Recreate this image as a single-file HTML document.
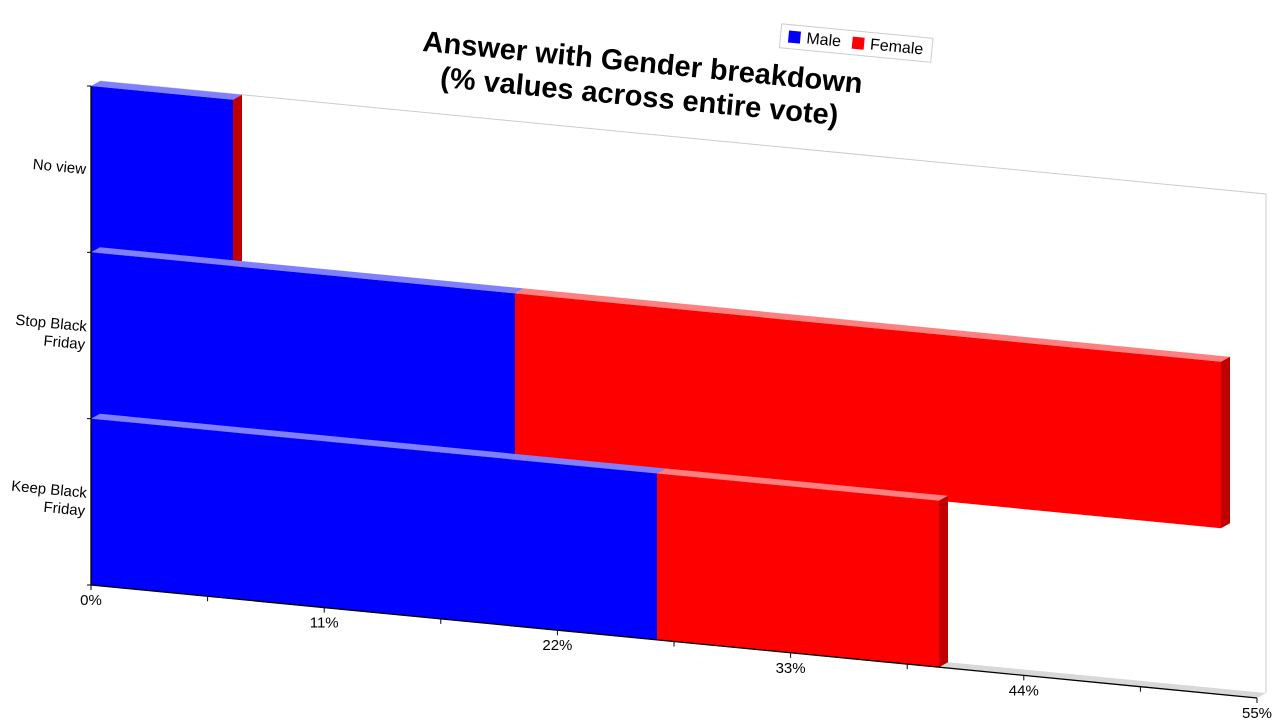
<!DOCTYPE html>
<html><head><meta charset="utf-8"><style>
html,body{margin:0;padding:0;background:#fff;width:1280px;height:720px;overflow:hidden;font-family:"Liberation Sans",sans-serif}
</style></head><body>
<svg id="chart" width="1280" height="720" xmlns="http://www.w3.org/2000/svg">
<g id="wall"></g>
<g id="bars"></g>
<g id="axes"></g>
<g transform="rotate(5.5 640 90)">
<text x="640" y="72" text-anchor="middle" font-size="29" font-weight="bold" fill="#000">Answer with Gender breakdown</text>
<text x="640" y="106" text-anchor="middle" font-size="29" font-weight="bold" fill="#000">(% values across entire vote)</text>
</g>
<g transform="rotate(5.5 856 45)">
<rect x="780" y="31" width="152" height="24" fill="#fff" stroke="#ccc"/>
<rect x="788" y="37" width="12" height="12" fill="#0000ff"/>
<text x="806" y="48" font-size="16">Male</text>
<rect x="852" y="37" width="12" height="12" fill="#ff0000"/>
<text x="870" y="48" font-size="16">Female</text>
</g>
</svg>
<script>
const categories = ["No view", "Stop Black\nFriday", "Keep Black\nFriday"];
const maleValues = [6.7, 20.0, 26.7];
const femaleValues = [0.0, 33.3, 13.3];
const tickValues = [0, 11, 22, 33, 44, 55];
const tickLabels = ["0%", "11%", "22%", "33%", "44%", "55%"];

const NS = "http://www.w3.org/2000/svg";
const x0 = 91, x1 = 1257, top0 = 86, bot0 = 585, slope = 113/1166, maxV = 55;
const dx = 9, dy = -5;
const xs = v => x0 + (v / maxV) * (x1 - x0);
const yAt = (y, x) => y + slope * (x - x0);
const band = (bot0 - top0) / categories.length;
function el(parent, tag, attrs) { const e = document.createElementNS(NS, tag); for (const k in attrs) e.setAttribute(k, attrs[k]); parent.appendChild(e); return e; }
const pts = a => a.map(p => p[0].toFixed(1) + "," + p[1].toFixed(1)).join(" ");

const wall = document.getElementById("wall");
const bars = document.getElementById("bars");
const axes = document.getElementById("axes");
// floor
let floor = el(wall, "polygon", {points: pts([[x0, bot0], [x1, yAt(bot0, x1)], [x1 + dx, yAt(bot0, x1) + dy], [x0 + dx, bot0 + dy]]), fill: "#d8d8d8"});


let back = el(wall, "polyline", {points: pts([[x0 + dx, top0 + dy], [x1 + dx, yAt(top0, x1) + dy], [x1 + dx, yAt(bot0, x1) + dy]]), fill: "none", stroke: "#ccc", "stroke-width": 1});


let lw = el(wall, "polygon", {points: pts([[x0, top0], [x0 + dx, top0 + dy], [x0 + dx, bot0 + dy], [x0, bot0]]), fill: "#eee"});



function seg(i, a, b, col, light, dark, last, name) {
  const yt = top0 + i * band, yb = yt + band;
  const xa = xs(a), xb = xs(b);
  const g = el(bars, "g", {});
  
  
  el(g, "polygon", {points: pts([[xa, yAt(yt, xa)], [xa + dx, yAt(yt, xa) + dy], [xb + dx, yAt(yt, xb) + dy], [xb, yAt(yt, xb)]]), fill: light});
  if (xb > xa) el(g, "polygon", {points: pts([[xa, yAt(yt, xa)], [xb, yAt(yt, xb)], [xb, yAt(yb, xb)], [xa, yAt(yb, xa)]]), fill: col});
  if (last) el(g, "polygon", {points: pts([[xb, yAt(yt, xb)], [xb + dx, yAt(yt, xb) + dy], [xb + dx, yAt(yb, xb) + dy], [xb, yAt(yb, xb)]]), fill: dark});
}
categories.forEach((c, i) => {
  const m = maleValues[i], f = femaleValues[i];
  seg(i, 0, m, "#0000ff", "#8080ff", "#0000c0", false, "bar-male-" + i);
  seg(i, m, m + f, "#ff0000", "#ff8080", "#c00000", true, "bar-female-" + i);
});
// axes
let ya = el(axes, "line", {x1: x0, y1: top0, x2: x0, y2: bot0, stroke: "#000", "stroke-width": 1.3});


let xa = el(axes, "line", {x1: x0, y1: bot0, x2: x1, y2: yAt(bot0, x1), stroke: "#000", "stroke-width": 1.3});


for (let i = 0; i <= 10; i++) {
  const v = i * maxV / 10, x = xs(v), y = yAt(bot0, x);
  el(axes, "line", {x1: x, y1: y, x2: x, y2: y + 5, stroke: "#000"});
}
tickValues.forEach((v, i) => {
  const x = xs(v), y = yAt(bot0, x);
  const t = el(axes, "text", {x: x, y: y + 20, "text-anchor": "middle", "font-size": 15, fill: "#000"});
  
  
  t.textContent = tickLabels[i];
});
for (let i = 0; i <= categories.length; i++) {
  const y = top0 + i * band;
  el(axes, "line", {x1: x0 - 4, y1: y, x2: x0, y2: y, stroke: "#000"});
}
categories.forEach((c, i) => {
  const yc = top0 + (i + 0.5) * band;
  const lines = c.split("\n");
  const t = el(axes, "text", {"text-anchor": "end", "font-size": 15, fill: "#000", transform: "rotate(5.5 86 " + yc + ")"});
  
  
  lines.forEach((l, j) => {
    const s = el(t, "tspan", {x: 86, y: yc + 5 + (j - (lines.length - 1) / 2) * 18});
    s.textContent = l;
  });
});
</script>
</body></html>
